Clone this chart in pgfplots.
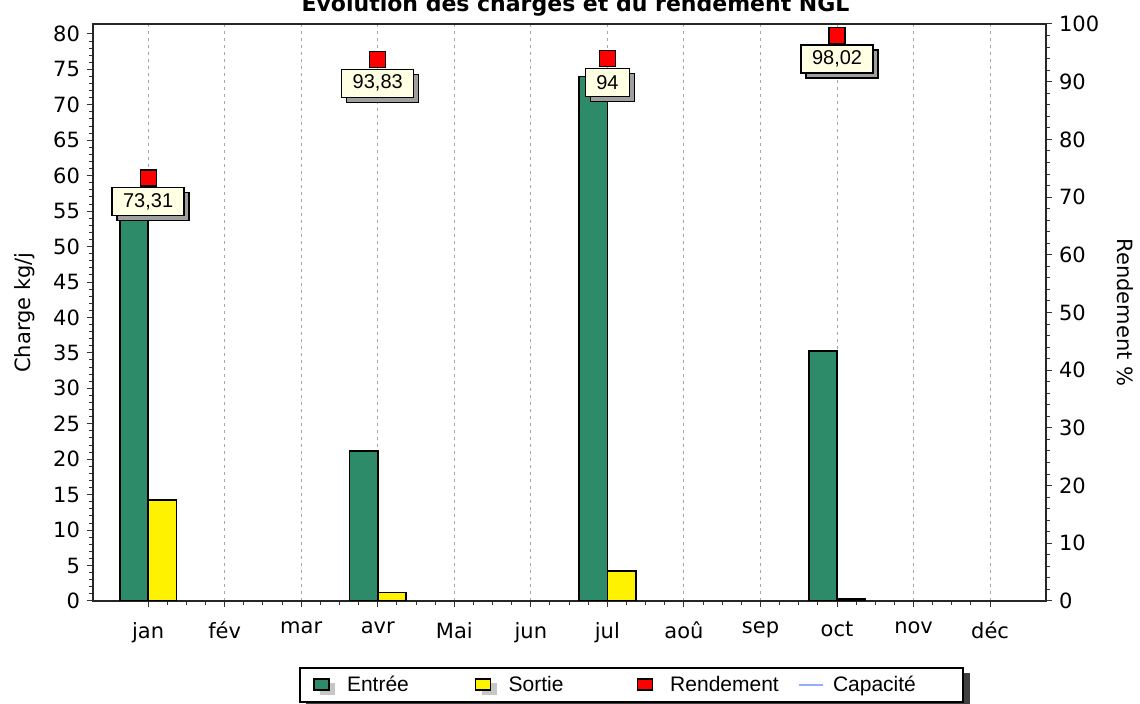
\documentclass[border=0pt]{standalone}
\usepackage{fontspec}
\setmainfont{DejaVu Sans}
\newfontfamily\arial{Liberation Sans}
\usepackage{pgfplots}
\pgfplotsset{compat=1.18}
\usetikzlibrary{shadows}
\definecolor{entree}{RGB}{46,139,105}
\definecolor{labelbg}{RGB}{255,255,228}
\definecolor{capa}{RGB}{150,170,255}
\begin{document}
\begin{tikzpicture}
\pgfplotsset{
  common/.style={
    scale only axis, width=476.5pt, height=288.5pt,
    xmin=-0.72, xmax=11.73,
    tick align=outside,
    major tick length=3pt, minor tick length=1.8pt,
    axis line style={line width=1pt, black!85},
    every tick/.style={black!80, line width=0.5pt},
    /pgf/number format/assume math mode=true,
    ticklabel style={font=\fontsize{10.5}{12}\selectfont},
    label style={font=\fontsize{10.5}{12}\selectfont},
  }
}
% legend frame and its shadow
\fill[black!75] (106.5pt,-36pt) rectangle (438.5pt,-54pt);
\draw[fill=white, line width=0.8pt] (103.5pt,-33.5pt) rectangle (435pt,-50.5pt);
\begin{axis}[common, name=ax,
  ymin=0, ymax=81.4,
  xtick={0,...,11},
  xticklabels={jan,fév,mar,avr,Mai,jun,jul,aoû,sep,oct,nov,déc},
  xticklabel style={yshift=-4pt},
  minor x tick num=3,
  ytick={0,5,...,80}, minor y tick num=4,
  tick pos=left,
  xmajorgrids, grid style={dash pattern=on 1.5pt off 2pt, gray!70, line width=0.5pt},
  ylabel={Charge kg/j},
  ylabel style={at={(axis description cs:-0.0714,0.5)}, anchor=center},
]
\addplot[ybar, bar width=0.37, bar shift=-0.185, fill=entree, draw=black, line width=0.8pt]
  coordinates {(0,54) (3,21.2) (6,74.0) (9,35.3)};
\addplot[ybar, bar width=0.37, bar shift=0.185, fill=yellow, draw=black, line width=0.8pt]
  coordinates {(0,14.25) (3,1.2) (6,4.2) (9,0.3)};
\end{axis}
\node[font=\bfseries\fontsize{11}{13}\selectfont, anchor=base, xshift=3pt, yshift=6pt]
  at (ax.north) {Évolution des charges et du rendement NGL};
\begin{axis}[common,
  ymin=0, ymax=100,
  axis y line*=right, axis x line=none,
  ytick={0,10,...,100}, minor y tick num=4,
  ylabel={Rendement \%},
  ylabel style={at={(axis description cs:1.083,0.5)}, anchor=center, rotate=180},
  legend columns=4,
  legend style={at={(axis description cs:0.2309,-0.1456)}, anchor=west,
    draw=none, fill=none, inner sep=0pt,
    font=\arial\fontsize{10.5}{12}\selectfont},
]
\addplot[forget plot, only marks, mark=square*, mark size=4pt,
  mark options={fill=red, draw=black, line width=0.6pt},
  nodes near coords, point meta=explicit symbolic,
  nodes near coords style={font=\arial\fontsize{10}{12}\selectfont,
    fill=labelbg, draw=black, line width=0.7pt, anchor=north, yshift=-4.5pt,
    inner xsep=5.5pt, inner ysep=2pt, minimum height=14pt,
    drop shadow={shadow xshift=2.5pt, shadow yshift=-2.5pt, fill=gray!75, opacity=1}}]
  table[meta=lab] {
x y lab
0 73.31 73,31
3 93.83 93,83
6 94 94
9 98.02 98,02
};
\addlegendimage{draw=none, legend image code/.code={
  \fill[gray!45, draw=none] (3pt,-5pt) rectangle (10.5pt,1pt);
  \draw[draw=black, fill=entree, line width=0.6pt] (0pt,-2.5pt) rectangle (7.5pt,3pt);
  \path[draw=none] (0pt,0pt) -- (14.5pt,0pt);}}
\addlegendentry{\makebox[62pt][l]{Entrée}}
\addlegendimage{draw=none, legend image code/.code={
  \fill[gray!45, draw=none] (3pt,-5pt) rectangle (10.5pt,1pt);
  \draw[draw=black, fill=yellow, line width=0.6pt] (0pt,-2.5pt) rectangle (7.5pt,3pt);
  \path[draw=none] (0pt,0pt) -- (14.5pt,0pt);}}
\addlegendentry{\makebox[62pt][l]{Sortie}}
\addlegendimage{draw=none, legend image code/.code={
  \draw[draw=black, fill=red, line width=0.6pt] (0pt,-2.5pt) rectangle (7.5pt,3pt);
  \path[draw=none] (0pt,0pt) -- (14.5pt,0pt);}}
\addlegendentry{\makebox[62pt][l]{Rendement}}
\addlegendimage{draw=none, legend image code/.code={
  \draw[draw=capa, line width=0.8pt] (0pt,0pt) -- (12pt,0pt);
  \path[draw=none] (0pt,0pt) -- (15pt,0pt);}}
\addlegendentry{\makebox[42pt][l]{Capacité}}
\end{axis}
\pgfresetboundingbox
\useasboundingbox (-46.5pt,-51.5pt) rectangle (523.5pt,300.5pt);
\end{tikzpicture}
\end{document}
